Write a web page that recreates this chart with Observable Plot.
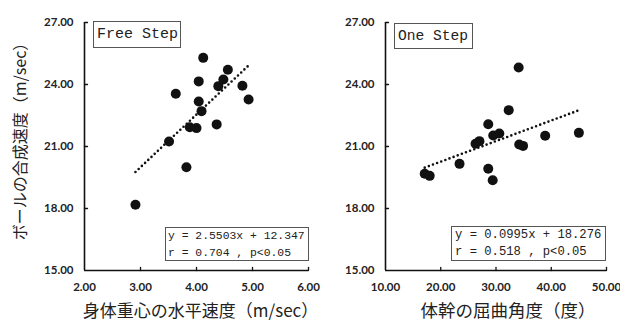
<!DOCTYPE html>
<html>
<head>
<meta charset="utf-8">
<script src="https://cdn.jsdelivr.net/npm/d3@7"></script>
<script src="https://cdn.jsdelivr.net/npm/@observablehq/plot@0.6"></script>
<style>
  html, body { margin: 0; padding: 0; background: #fff; }
  #wrap { position: relative; width: 620px; height: 321px; overflow: hidden; }
  .panel { position: absolute; top: 0; }
  .box { position: absolute; box-sizing: border-box; border: 1px solid #555; background: #fff;
         font-family: "Liberation Mono", "DejaVu Sans Mono", monospace; color: #222; white-space: pre; }
</style>
</head>
<body>
<div id="wrap">
  <div id="left" class="panel" style="left:0px"></div>
  <div id="right" class="panel" style="left:300px"></div>
</div>
<script>
// ---- data ----
const freeX = [4.12, 4.56, 4.04, 4.48, 4.39, 4.82, 3.63, 4.93, 4.04, 4.09, 3.88, 4.00, 4.36, 3.51, 3.82, 2.91];
const freeY = [25.29, 24.71, 24.15, 24.24, 23.92, 23.94, 23.55, 23.27, 23.18, 22.71, 21.93, 21.89, 22.07, 21.24, 20.00, 18.18];
const oneX = [34.1, 32.3, 28.6, 29.5, 30.6, 38.9, 45.0, 26.3, 27.0, 34.2, 34.9, 23.4, 17.1, 18.0, 28.6, 29.4];
const oneY = [24.82, 22.76, 22.08, 21.53, 21.63, 21.52, 21.66, 21.13, 21.26, 21.10, 21.03, 20.16, 19.68, 19.58, 19.92, 19.37];
const yTicks = [15, 18, 21, 24, 27];
const freeTicks = [2, 3, 4, 5, 6];
const oneTicks = [10, 20, 30, 40, 50];
const freeFit = {slope: 2.5503, intercept: 12.347, r: "0.704", p: "p<0.05"};
const oneFit = {slope: 0.0995, intercept: 18.276, r: "0.518", p: "p<0.05"};
const freeTitle = "Free Step";
const oneTitle = "One Step";
const yLabel = "ボールの合成速度（m/sec）";
const freeXLabel = "身体重心の水平速度（m/sec）";
const oneXLabel = "体幹の屈曲角度（度）";

const tickUp = {draw(ctx, l) { ctx.moveTo(0, 0); ctx.lineTo(0, -l); }};
const tickRight = {draw(ctx, l) { ctx.moveTo(0, 0); ctx.lineTo(l, 0); }};
const ink = "#111";

function panel({xs, ys, xTicks, fit, xLabel, showY, width, marginLeft, marginRight, labelDx, labelSize}) {
  const pts = xs.map((x, i) => ({x, y: ys[i]}));
  const xmin = d3.min(xs), xmax = d3.max(xs);
  const line = [xmin, xmax].map(x => ({x, y: fit.slope * x + fit.intercept}));
  const x0 = xTicks[0], y0 = yTicks[0];
  const marks = [
    Plot.axisX(xTicks, {tickSize: 0, tickPadding: 12, tickFormat: d => d.toFixed(2), label: null,
      fontFamily: "Lato", fontWeight: "bold", fontSize: 11.5, fill: "#222"}),
    Plot.axisY(yTicks, {tickSize: 0, tickPadding: 11, tickFormat: d => d.toFixed(2), label: null,
      fontFamily: "Lato", fontWeight: "bold", fontSize: 11.5, fill: "#222"}),
    Plot.ruleX([x0], {stroke: ink, strokeWidth: 1.6}),
    Plot.ruleY([y0], {stroke: ink, strokeWidth: 1.6}),
    Plot.vector(xTicks.slice(1), {x: d => d, y: y0, length: 3, anchor: "start", shape: tickUp, stroke: ink, strokeWidth: 1.3}),
    Plot.vector(yTicks.slice(1), {x: x0, y: d => d, length: 3, anchor: "start", shape: tickRight, stroke: ink, strokeWidth: 1.3}),
    Plot.line(line, {x: "x", y: "y", stroke: ink, strokeWidth: 2.6, strokeDasharray: "0,4.4", strokeLinecap: "round"}),
    Plot.dot(pts, {x: "x", y: "y", r: 5, fill: ink}),
    Plot.text([xLabel], {frameAnchor: "bottom", lineAnchor: "middle", textAnchor: "middle", dy: 41, dx: labelDx,
      fontFamily: "Noto Sans CJK JP", fontSize: labelSize, fill: "#222"})
  ];
  if (showY) {
    marks.push(Plot.text([yLabel], {frameAnchor: "left", textAnchor: "middle", lineAnchor: "middle", rotate: -90, dx: -64, dy: -9,
      fontFamily: "Noto Sans CJK JP", fontSize: 16, fill: "#222"}));
  }
  return Plot.plot({
    width, height: 321, marginTop: 22, marginBottom: 51, marginLeft, marginRight,
    x: {domain: [xTicks[0], xTicks[xTicks.length - 1]]},
    y: {domain: [yTicks[0], yTicks[yTicks.length - 1]]},
    style: {background: "transparent", overflow: "visible"},
    marks
  });
}

document.getElementById("left").append(panel({
  xs: freeX, ys: freeY, xTicks: freeTicks, fit: freeFit, xLabel: freeXLabel, showY: true,
  width: 330, marginLeft: 84, marginRight: 22, labelDx: 4, labelSize: 17
}));
document.getElementById("right").append(panel({
  xs: oneX, ys: oneY, xTicks: oneTicks, fit: oneFit, xLabel: oneXLabel, showY: false,
  width: 320, marginLeft: 85, marginRight: 14, labelDx: 12, labelSize: 17.5
}));

function fmt(n) { return String(n); }
function addBox(text, style) {
  const d = document.createElement("div");
  d.className = "box";
  d.textContent = text;
  Object.assign(d.style, style);
  document.getElementById("wrap").append(d);
}
addBox(freeTitle, {left: "93px", top: "21px", width: "88px", height: "27px", fontSize: "15px", lineHeight: "25px", paddingLeft: "3px"});
addBox(oneTitle, {left: "394px", top: "23px", width: "79px", height: "26px", fontSize: "14.6px", lineHeight: "24px", paddingLeft: "3px"});
addBox(`y = ${fmt(freeFit.slope)}x + ${fmt(freeFit.intercept)}\nr = ${freeFit.r} , ${freeFit.p}`,
  {left: "165px", top: "227px", width: "144px", height: "34px", fontSize: "11.4px", lineHeight: "16.5px", paddingLeft: "2px"});
addBox(`y = ${fmt(oneFit.slope)}x + ${fmt(oneFit.intercept)}\nr = ${oneFit.r} , ${oneFit.p}`,
  {left: "451px", top: "226px", width: "155px", height: "35px", fontSize: "12.2px", lineHeight: "16.5px", paddingLeft: "3px"});
</script>
</body>
</html>
